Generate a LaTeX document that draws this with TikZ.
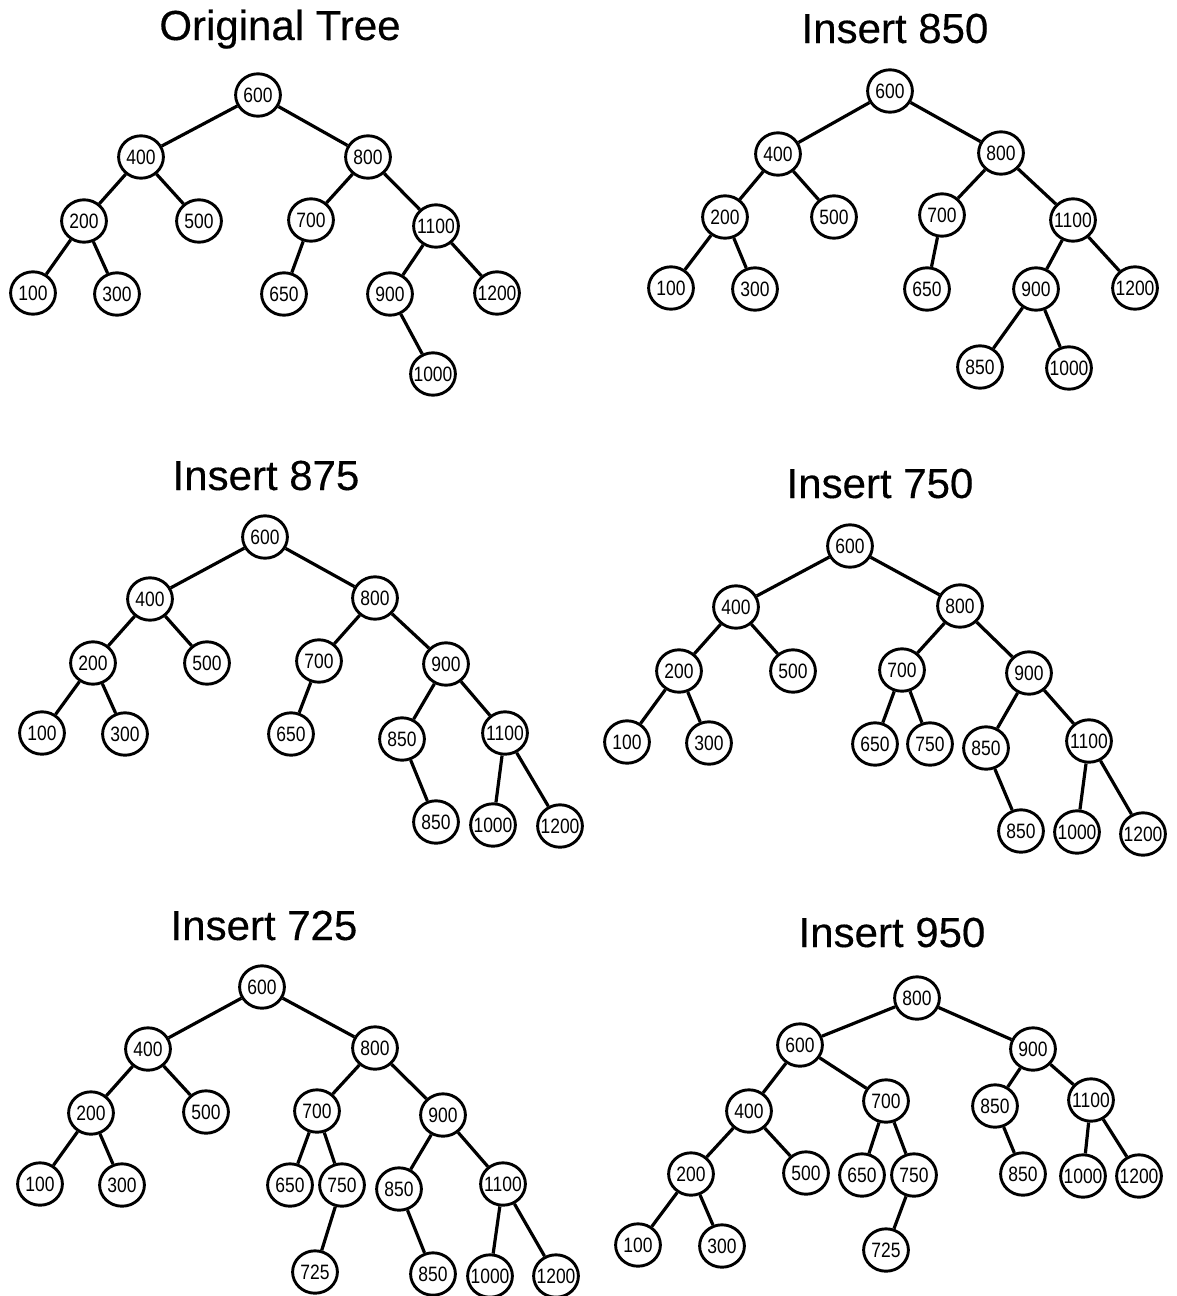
\documentclass[tikz,border=0pt]{standalone}
\usepackage{fontspec}
\setmainfont{Liberation Sans}
\newfontfamily\keyfont[FakeStretch=0.84]{Liberation Sans}
\newfontfamily\headfont[FakeBold=0.35]{Liberation Sans}
\usetikzlibrary{shapes.geometric}
\begin{document}
\begin{tikzpicture}[x=0.5pt,y=-0.5pt,
  % fixed-size ring; the label is centred in a zero-width box so long keys may overrun the ring
  key/.style={ellipse,draw,line width=1.45pt,minimum width=22.4pt,minimum height=21.2pt,inner sep=0pt,
    font=\keyfont\fontsize{10.4}{11}\selectfont,
    execute at begin node={\hbox to 0pt\bgroup\hss},
    execute at end node={\hss\egroup}},
  heading/.style={anchor=base,inner sep=0pt,font=\headfont\fontsize{21}{24}\selectfont},
  link/.style={line width=1.6pt}]
\useasboundingbox (0,0) rectangle (1177,1296);

% ---------- Original Tree ----------
\node[heading] (ta) at (280,40) {Original Tree};
\node[key] (a600) at (258,95) {600};
\node[key] (a400) at (141,157) {400};
\node[key] (a800) at (368,157) {800};
\node[key] (a200) at (84,221) {200};
\node[key] (a500) at (199,221) {500};
\node[key] (a700) at (311,220) {700};
\node[key] (a1100) at (436,226) {1100};
\node[key] (a100) at (33,293) {100};
\node[key] (a300) at (117,294) {300};
\node[key] (a650) at (284,294) {650};
\node[key] (a900) at (390,294) {900};
\node[key] (a1200) at (497,293) {1200};
\node[key] (a1000) at (433,374) {1000};
\foreach \p/\c in {a600/a400,a600/a800,a400/a200,a400/a500,a200/a100,a200/a300,
  a800/a700,a800/a1100,a700/a650,a1100/a900,a1100/a1200,a900/a1000}
  \draw[link] (\p) -- (\c);

% ---------- Insert 850 ----------
\node[heading] (tb) at (895,43) {Insert 850};
\node[key] (b600) at (890,91) {600};
\node[key] (b400) at (778,154) {400};
\node[key] (b800) at (1001,153) {800};
\node[key] (b200) at (725,217) {200};
\node[key] (b500) at (834,217) {500};
\node[key] (b700) at (942,215) {700};
\node[key] (b1100) at (1073,220) {1100};
\node[key] (b100) at (671,288) {100};
\node[key] (b300) at (755,289) {300};
\node[key] (b650) at (927,289) {650};
\node[key] (b900) at (1036,289) {900};
\node[key] (b1200) at (1135,288) {1200};
\node[key] (b850) at (980,367) {850};
\node[key] (b1000) at (1069,368) {1000};
\foreach \p/\c in {b600/b400,b600/b800,b400/b200,b400/b500,b200/b100,b200/b300,
  b800/b700,b800/b1100,b700/b650,b1100/b900,b1100/b1200,b900/b850,b900/b1000}
  \draw[link] (\p) -- (\c);

% ---------- Insert 875 ----------
\node[heading] (tc) at (266,490) {Insert 875};
\node[key] (c600) at (265,537) {600};
\node[key] (c400) at (150,599) {400};
\node[key] (c800) at (375,598) {800};
\node[key] (c200) at (93,663) {200};
\node[key] (c500) at (207,663) {500};
\node[key] (c700) at (319,661) {700};
\node[key] (c900) at (446,664) {900};
\node[key] (c100) at (42,733) {100};
\node[key] (c300) at (125,734) {300};
\node[key] (c650) at (291,734) {650};
\node[key] (c850) at (402,739) {850};
\node[key] (c1100) at (505,733) {1100};
\node[key] (c850x) at (436,822) {850};
\node[key] (c1000) at (493,825) {1000};
\node[key] (c1200) at (560,826) {1200};
\foreach \p/\c in {c600/c400,c600/c800,c400/c200,c400/c500,c200/c100,c200/c300,
  c800/c700,c800/c900,c700/c650,c900/c850,c900/c1100,c850/c850x,c1100/c1000,c1100/c1200}
  \draw[link] (\p) -- (\c);

% ---------- Insert 750 ----------
\node[heading] (td) at (880,498) {Insert 750};
\node[key] (d600) at (850,546) {600};
\node[key] (d400) at (736,607) {400};
\node[key] (d800) at (960,606) {800};
\node[key] (d200) at (679,671) {200};
\node[key] (d500) at (793,671) {500};
\node[key] (d700) at (902,670) {700};
\node[key] (d900) at (1029,673) {900};
\node[key] (d100) at (627,742) {100};
\node[key] (d300) at (709,743) {300};
\node[key] (d650) at (875,744) {650};
\node[key] (d750) at (930,744) {750};
\node[key] (d850) at (986,748) {850};
\node[key] (d1100) at (1089,741) {1100};
\node[key] (d850x) at (1021,831) {850};
\node[key] (d1000) at (1077,832) {1000};
\node[key] (d1200) at (1143,834) {1200};
\foreach \p/\c in {d600/d400,d600/d800,d400/d200,d400/d500,d200/d100,d200/d300,
  d800/d700,d800/d900,d700/d650,d700/d750,d900/d850,d900/d1100,d850/d850x,
  d1100/d1000,d1100/d1200}
  \draw[link] (\p) -- (\c);

% ---------- Insert 725 ----------
\node[heading] (te) at (264,940) {Insert 725};
\node[key] (e600) at (262,987) {600};
\node[key] (e400) at (148,1049) {400};
\node[key] (e800) at (375,1048) {800};
\node[key] (e200) at (91,1113) {200};
\node[key] (e500) at (206,1112) {500};
\node[key] (e700) at (317,1111) {700};
\node[key] (e900) at (443,1115) {900};
\node[key] (e100) at (40,1184) {100};
\node[key] (e300) at (122,1185) {300};
\node[key] (e650) at (290,1185) {650};
\node[key] (e750) at (342,1185) {750};
\node[key] (e850) at (399,1189) {850};
\node[key] (e1100) at (503,1184) {1100};
\node[key] (e725) at (315,1272) {725};
\node[key] (e850x) at (433,1274) {850};
\node[key] (e1000) at (490,1276) {1000};
\node[key] (e1200) at (556,1276) {1200};
\foreach \p/\c in {e600/e400,e600/e800,e400/e200,e400/e500,e200/e100,e200/e300,
  e800/e700,e800/e900,e700/e650,e700/e750,e750/e725,e900/e850,e900/e1100,
  e850/e850x,e1100/e1000,e1100/e1200}
  \draw[link] (\p) -- (\c);

% ---------- Insert 950 ----------
\node[heading] (tf) at (892,947) {Insert 950};
\node[key] (f800) at (917,998) {800};
\node[key] (f600) at (800,1045) {600};
\node[key] (f900) at (1033,1049) {900};
\node[key] (f400) at (749,1111) {400};
\node[key] (f700) at (886,1101) {700};
\node[key] (f850) at (995,1106) {850};
\node[key] (f1100) at (1091,1100) {1100};
\node[key] (f200) at (691,1174) {200};
\node[key] (f500) at (806,1173) {500};
\node[key] (f650) at (862,1175) {650};
\node[key] (f750) at (914,1175) {750};
\node[key] (f850x) at (1023,1174) {850};
\node[key] (f1000) at (1083,1176) {1000};
\node[key] (f1200) at (1139,1176) {1200};
\node[key] (f100) at (638,1245) {100};
\node[key] (f300) at (722,1246) {300};
\node[key] (f725) at (886,1250) {725};
\foreach \p/\c in {f800/f600,f800/f900,f600/f400,f600/f700,f400/f200,f400/f500,
  f200/f100,f200/f300,f700/f650,f700/f750,f750/f725,f900/f850,f900/f1100,
  f850/f850x,f1100/f1000,f1100/f1200}
  \draw[link] (\p) -- (\c);
\end{tikzpicture}
\end{document}
